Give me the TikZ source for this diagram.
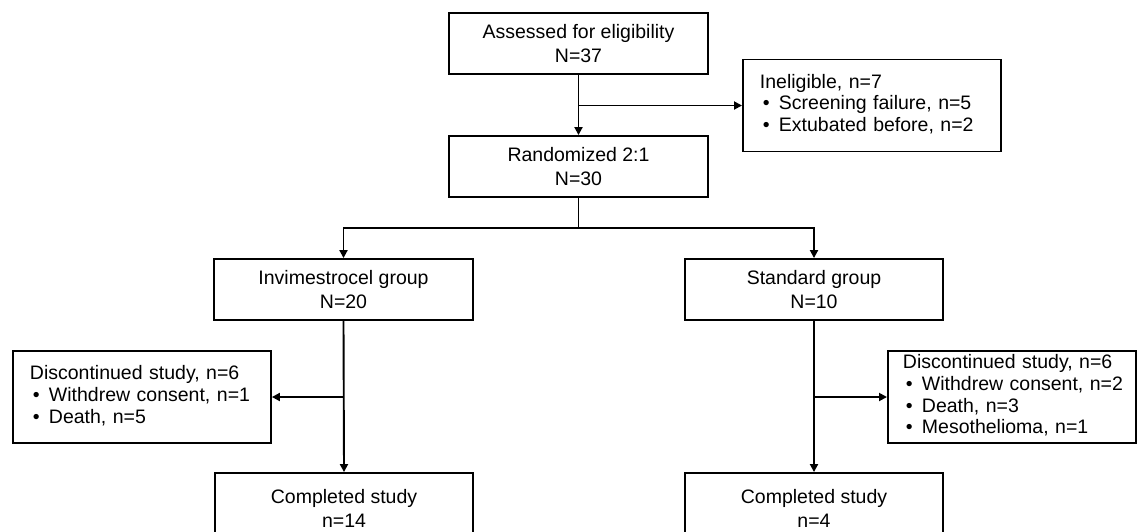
\documentclass[tikz,border=0pt]{standalone}
\usepackage{fontspec}
\setmainfont{Liberation Sans}
\usetikzlibrary{arrows.meta}
\newcommand\bitem[1]{\hspace*{3pt}\makebox[16pt][l]{\textbullet}#1}
\newcommand\sidetext[2]{\hspace*{#1}\begin{tabular}{@{}l@{}}#2\end{tabular}}
\begin{document}
\begin{tikzpicture}[x=1pt,y=-1pt,
  box/.style={draw,line width=1.9pt,inner sep=0pt,align=center,
    font=\fontsize{19.5}{24}\selectfont},
  sidebox/.style={draw,line width=1.9pt,inner sep=0pt,align=left,
    anchor=west,font=\fontsize{19.5}{21.7}\selectfont},
  arr/.style={line width=1.9pt,-{Triangle[length=8pt,width=8pt]}},
  ln/.style={line width=1.9pt}]
\useasboundingbox (0,0) rectangle (1137,531);
\clip (0,0) rectangle (1137,531);
\node[box,minimum width=259,minimum height=61] (assess) at (578.5,43.5) {Assessed for eligibility\\N=37};
\node[box,minimum width=259,minimum height=61] (rand) at (578.5,166.5) {Randomized 2:1\\N=30};
\node[sidebox,minimum height=92,text width=258pt] (inel) at (742,105.5)
  {\sidetext{17pt}{Ineligible, n=7\\\bitem{Screening failure, n=5}\\\bitem{Extubated before, n=2}}};
\node[box,minimum width=259,minimum height=61] (invim) at (343.5,289.5) {Invimestrocel group\\N=20};
\node[box,minimum width=258,minimum height=61] (stand) at (814,289.5) {Standard group\\N=10};
\node[sidebox,minimum height=92,text width=258pt] (discL) at (12,397)
  {\sidetext{17pt}{Discontinued study, n=6\\\bitem{Withdrew consent, n=1}\\\bitem{Death, n=5}}};
\node[sidebox,minimum height=92,text width=248pt] (discR) at (887,397)
  {\sidetext{15pt}{Discontinued study, n=6\\\bitem{Withdrew consent, n=2}\\\bitem{Death, n=3}\\\bitem{Mesothelioma, n=1}}};
\node[box,minimum width=258,minimum height=70] (compL) at (344,508) {Completed study\\n=14};
\node[box,minimum width=258,minimum height=70] (compR) at (814,508) {Completed study\\n=4};
\coordinate (split) at (578.5,228);
\draw[arr] (assess.south) -- (rand.north);
\draw[arr] (assess.south |- inel.west) -- (inel.west);
\draw[ln] (rand.south) -- (split);
\draw[arr] (split) -| (invim.north);
\draw[arr] (split) -| (stand.north);
\draw[arr] (invim.south) -- (compL.north);
\draw[arr] (invim.south |- discL.east) -- (discL.east);
\draw[arr] (stand.south) -- (compR.north);
\draw[arr] (stand.south |- discR.west) -- (discR.west);
\end{tikzpicture}
\end{document}
